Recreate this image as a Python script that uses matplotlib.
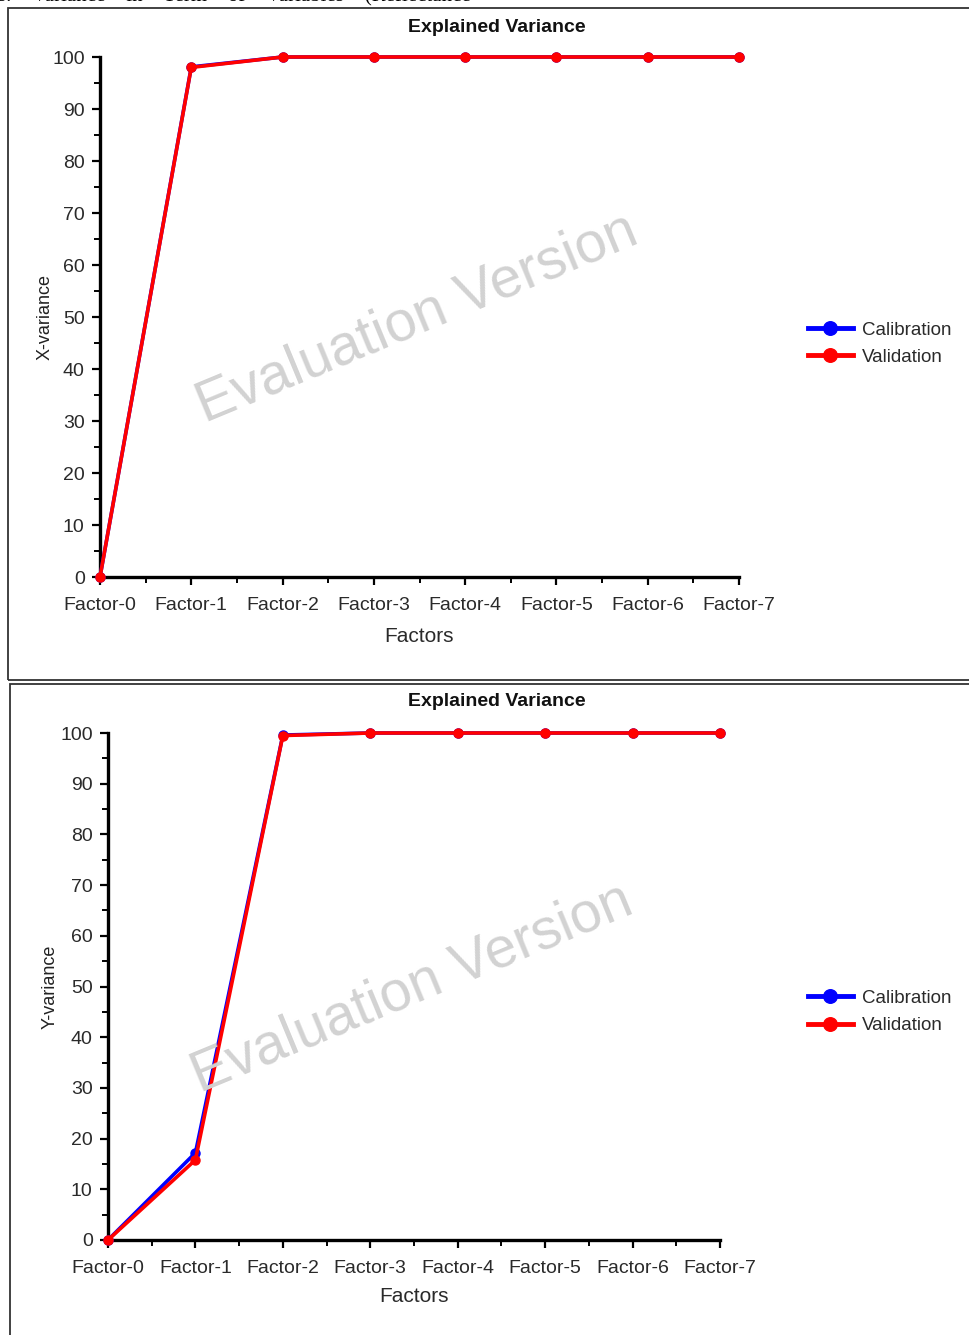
import numpy as np
import matplotlib.pyplot as plt
from matplotlib.patches import Rectangle

plt.rcParams['font.family'] = ['Liberation Sans', 'DejaVu Sans']

factors = ['Factor-0', 'Factor-1', 'Factor-2', 'Factor-3',
           'Factor-4', 'Factor-5', 'Factor-6', 'Factor-7']
series = ['Calibration', 'Validation']

# explained X-variance (%)
x_cal = [0, 98.1, 100, 100, 100, 100, 100, 100]
x_val = [0, 98.0, 100, 100, 100, 100, 100, 100]
# explained Y-variance (%)
y_cal = [0, 17.2, 99.6, 100, 100, 100, 100, 100]
y_val = [0, 15.8, 99.5, 100, 100, 100, 100, 100]

W, H = 969, 1335
fig = plt.figure(figsize=(W / 100, H / 100), dpi=100)

def fx(px):
    return px / W

def fy(py):
    return 1 - py / H

# page frames around the two plots
fig.patches.append(Rectangle((fx(8), fy(680)), 1, fy(8) - fy(680), transform=fig.transFigure,
                             fill=False, edgecolor='#333333', lw=1.3))
fig.patches.append(Rectangle((fx(10), -0.01), 1, fy(684) + 0.01, transform=fig.transFigure,
                             fill=False, edgecolor='#333333', lw=1.3))

# caption line running off the top of the page
fig.text(fx(-2), fy(-3), 's.    Variance    in    Term    of    Variables    (Reflectance',
         family='Liberation Serif', fontsize=15, va='center', ha='left', color='black')

txt = '#2a2a2a'
idx = np.arange(len(factors))


def panel(left, right, bottom, top, cal, val, ylabel, title_y, ylab_x, xlab_y, leg_y, wm):
    ax = fig.add_axes([fx(left), fy(bottom), fx(right) - fx(left), fy(top) - fy(bottom)])
    ax.plot(idx, cal, color='#0000ff', lw=2.6, marker='o', ms=6.5, clip_on=False,
            label=series[0], zorder=3)
    ax.plot(idx, val, color='#ff0000', lw=2.6, marker='o', ms=6.5, clip_on=False,
            label=series[1], zorder=4)
    ax.set_xlim(0, 7)
    ax.set_ylim(0, 100)
    for s in ['top', 'right']:
        ax.spines[s].set_visible(False)
    for s in ['left', 'bottom']:
        ax.spines[s].set_linewidth(2.4)
    ax.set_xticks(idx, factors)
    ax.set_xticks(idx[:-1] + 0.5, minor=True)
    ax.set_yticks(range(0, 101, 10))
    ax.set_yticks(range(5, 100, 10), minor=True)
    ax.tick_params(which='major', direction='out', length=6, width=1.6, labelsize=14,
                   labelcolor=txt)
    ax.tick_params(axis='x', which='major', pad=8.5)
    ax.tick_params(axis='y', which='major', pad=5)
    ax.tick_params(which='minor', direction='out', length=4, width=1.4)
    ax.patch.set_alpha(0)

    fig.text(fx(497), fy(title_y), 'Explained Variance', fontsize=14, fontweight='bold',
             ha='center', va='center', color='#111111')
    fig.text(fx(ylab_x), fy((top + bottom) / 2), ylabel, rotation=90, fontsize=13,
             ha='center', va='center', color='#222222')
    fig.text(fx((left + right) / 2), fy(xlab_y), 'Factors', fontsize=15,
             ha='center', va='center', color=txt)
    fig.text(fx(wm[0]), fy(wm[1]), 'Evaluation Version', fontsize=41,
             color='#d2d2d2', rotation=22.5, rotation_mode='anchor',
             ha='center', va='center', zorder=0)
    leg = ax.legend(loc='upper left', bbox_to_anchor=(fx(800), fy(leg_y)),
                    bbox_transform=fig.transFigure, frameon=False, fontsize=13.5,
                    handlelength=2.4, handletextpad=0.5, labelspacing=0.55, labelcolor=txt,
                    markerscale=1.5, borderaxespad=0)
    for h in leg.get_lines():
        h.set_linewidth(3.5)
    return ax


panel(100, 739, 577, 57, x_cal, x_val, 'X-variance', 27, 45, 636, 314, (417, 318))
panel(108, 720, 1240, 733, y_cal, y_val, 'Y-variance', 702, 50, 1297, 982, (412, 988))

fig.savefig('out.png', dpi=100)
